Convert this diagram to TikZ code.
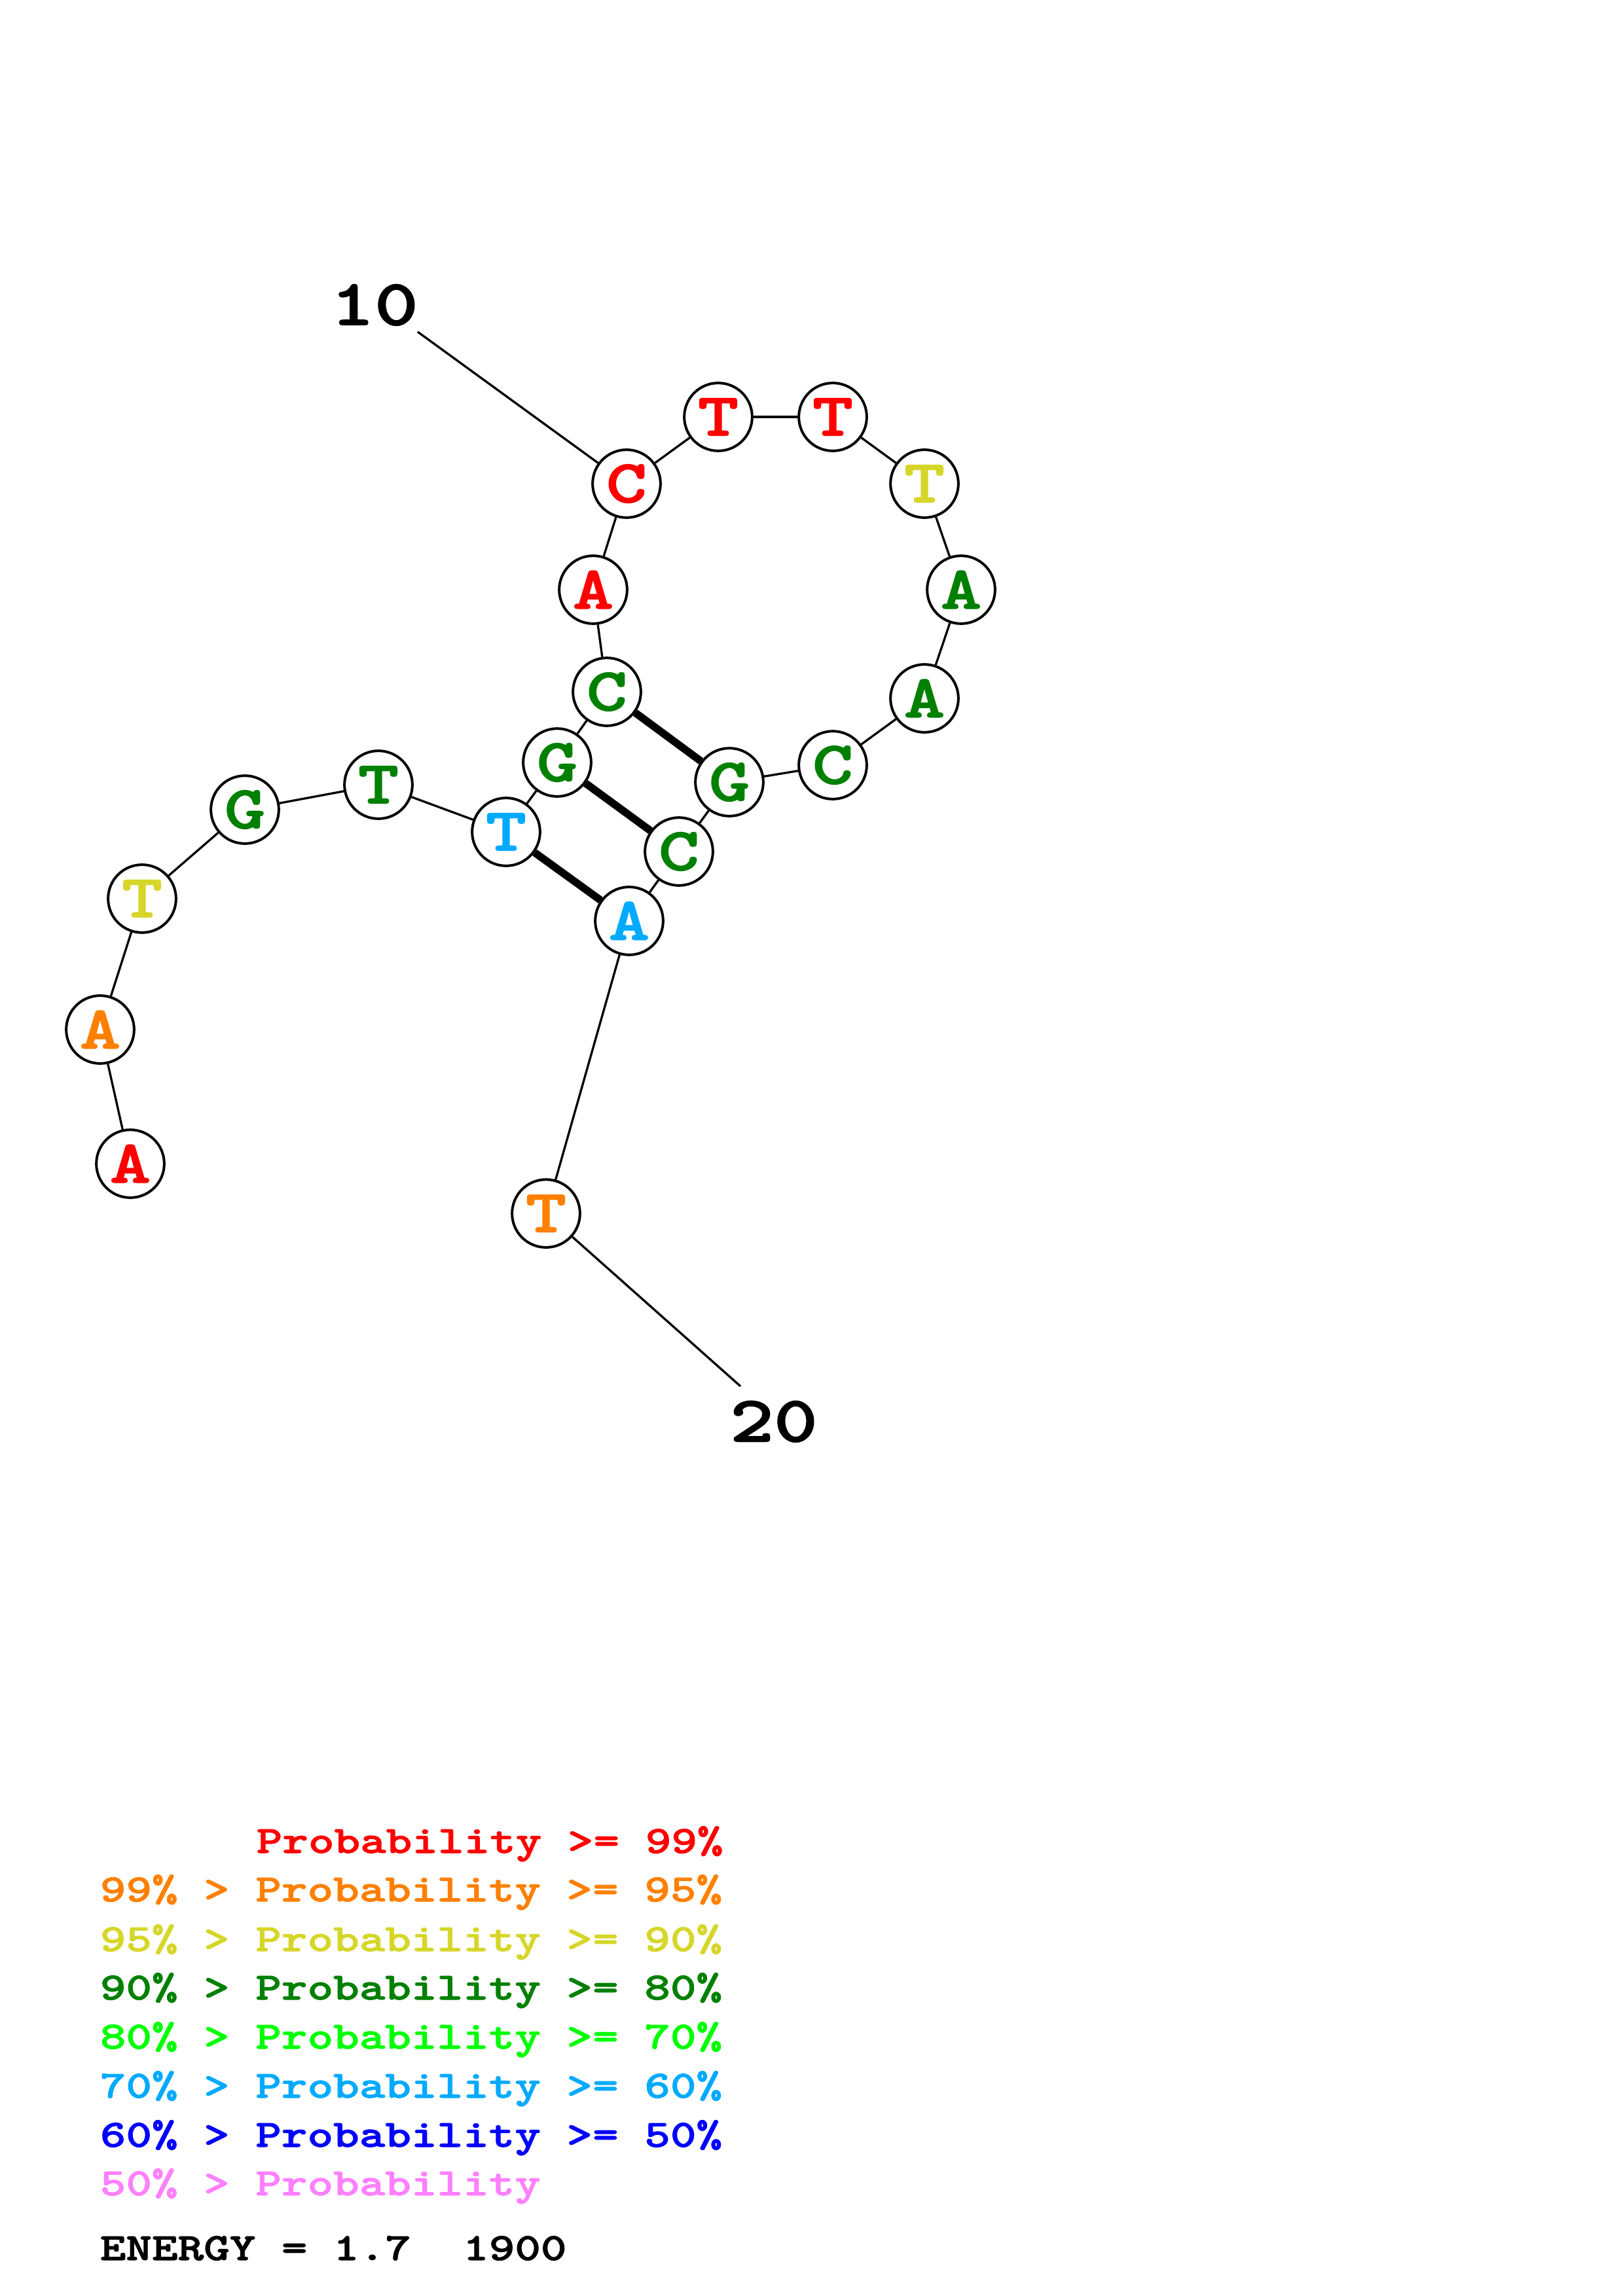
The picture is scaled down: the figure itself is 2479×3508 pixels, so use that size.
\documentclass[tikz,border=0pt]{standalone}
\usepackage{fontspec}
\usepackage{xcolor}
\usepackage{tikz}
\usetikzlibrary{positioning}

\newfontfamily\seqfont[Extension=.otf,FakeStretch=1.28,FakeBold=1.6]{lmmonolt10-bold}

\definecolor{pred}{RGB}{255,0,0}
\definecolor{porange}{RGB}{255,128,0}
\definecolor{pyellow}{RGB}{214,214,42}
\definecolor{pdkgreen}{RGB}{0,128,0}
\definecolor{pgreen}{RGB}{0,255,0}
\definecolor{pcyan}{RGB}{0,170,255}
\definecolor{pblue}{RGB}{0,0,255}
\definecolor{ppink}{RGB}{255,128,255}

\tikzset{
  base/.style={circle, draw, line width=0.95pt, fill=white, minimum size=25pt, inner sep=0pt,
    font=\seqfont\fontsize{22.4}{24}\selectfont},
  backbone/.style={line width=0.8pt},
  pairline/.style={line width=2.8pt},
  numlab/.style={font=\seqfont\fontsize{24}{26}\selectfont},
  legend/.style={anchor=base west, inner sep=0pt, font=\seqfont\fontsize{14.2}{16}\selectfont}
}

\begin{document}
\begin{tikzpicture}[x=0.241pt, y=-0.241pt]
    \useasboundingbox (0,0) rectangle (2479,3508);

    % bases
    \node[base, text=pred]     (n1)  at (199,1778) {A};
    \node[base, text=porange]  (n2)  at (153,1573) {A};
    \node[base, text=pyellow]  (n3)  at (217,1373) {T};
    \node[base, text=pdkgreen] (n4)  at (374,1237) {G};
    \node[base, text=pdkgreen] (n5)  at (578,1199) {T};
    \node[base, text=pcyan]    (n6)  at (773,1271) {T};
    \node[base, text=pdkgreen] (n7)  at (851,1165) {G};
    \node[base, text=pdkgreen] (n8)  at (927,1057) {C};
    \node[base, text=pred]     (n9)  at (906,901)  {A};
    \node[base, text=pred]     (n10) at (957,739)  {C};
    \node[base, text=pred]     (n11) at (1097,637) {T};
    \node[base, text=pred]     (n12) at (1272,637) {T};
    \node[base, text=pyellow]  (n13) at (1412,739) {T};
    \node[base, text=pdkgreen] (n14) at (1468,901) {A};
    \node[base, text=pdkgreen] (n15) at (1412,1067) {A};
    \node[base, text=pdkgreen] (n16) at (1272,1169) {C};
    \node[base, text=pdkgreen] (n17) at (1114,1195) {G};
    \node[base, text=pdkgreen] (n18) at (1037,1301) {C};
    \node[base, text=pcyan]    (n19) at (961,1407) {A};
    \node[base, text=porange]  (n20) at (834,1854) {T};

    % backbone
    \foreach \i [count=\j from 2] in {1,...,19}
        \draw[backbone] (n\i) -- (n\j);

    % pairs
    \draw[pairline] (n8) -- (n17);
    \draw[pairline] (n7) -- (n18);
    \draw[pairline] (n6) -- (n19);

    % position labels
    \node[numlab] (lab10) at (572,466) {10};
    \coordinate (tick10) at (638,507);
    \draw[backbone] (tick10) -- (n10);
    \node[numlab] (lab20) at (1182,2172) {20};
    \coordinate (tick20) at (1131,2118);
    \draw[backbone] (n20) -- (tick20);

    % legend
    \node[legend, text=pred]     (leg1) at (391,2831) {Probability >= 99\%};
    \node[legend, text=porange]  (leg2) at (152,2905) {99\% > Probability >= 95\%};
    \node[legend, text=pyellow]  (leg3) at (152,2981) {95\% > Probability >= 90\%};
    \node[legend, text=pdkgreen] (leg4) at (152,3055) {90\% > Probability >= 80\%};
    \node[legend, text=pgreen]   (leg5) at (152,3130) {80\% > Probability >= 70\%};
    \node[legend, text=pcyan]    (leg6) at (152,3205) {70\% > Probability >= 60\%};
    \node[legend, text=pblue]    (leg7) at (152,3280) {60\% > Probability >= 50\%};
    \node[legend, text=ppink]    (leg8) at (152,3354) {50\% > Probability};
    \node[legend]                (energy) at (152,3453) {ENERGY = 1.7~~1900};
\end{tikzpicture}
\end{document}
